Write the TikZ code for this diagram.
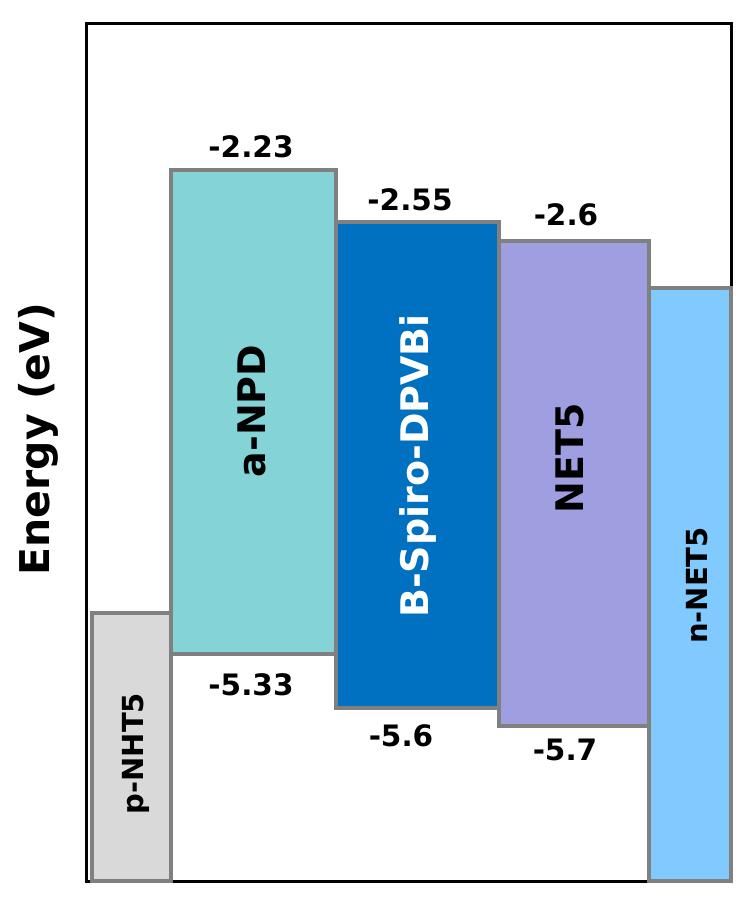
\documentclass[tikz,border=0pt]{standalone}
\usepackage{fontspec}
\setmainfont{DejaVu Sans}
\definecolor{bordergray}{HTML}{808080}
\definecolor{npdcol}{HTML}{84D3D6}
\definecolor{spirocol}{HTML}{0070C0}
\definecolor{netcol}{HTML}{9E9EE0}
\definecolor{nnetcol}{HTML}{80CAFF}
\definecolor{pnhtcol}{HTML}{D9D9D9}
\begin{document}
\begin{tikzpicture}[x=1pt,y=-1pt,
  layer/.style={draw=bordergray, line width=4pt, inner sep=0pt, outer sep=0pt},
  val/.style={font=\fontsize{29.5}{34}\selectfont\bfseries, inner sep=0pt, anchor=base},
  lbl/.style={font=\fontsize{38}{44}\selectfont\bfseries, rotate=90, inner sep=0pt, anchor=base},
  slbl/.style={font=\fontsize{29}{34}\selectfont\bfseries, rotate=90, inner sep=0pt, anchor=base}]
\useasboundingbox (0,0) rectangle (755,900);
% frame
\node[draw=black, line width=3.5pt, minimum width=645pt, minimum height=858pt, inner sep=0pt] (frame) at (409,452.5) {};
% layers
\node[layer, fill=pnhtcol, minimum width=79.5pt, minimum height=267.5pt] (pnht) at (131.25,746.75) {};
\node[layer, fill=npdcol, minimum width=165pt, minimum height=484pt] (npd) at (253.5,412) {};
\node[layer, fill=spirocol, minimum width=162.5pt, minimum height=486pt] (spiro) at (417.25,465) {};
\node[layer, fill=netcol, minimum width=150pt, minimum height=485pt] (net) at (573.5,483.5) {};
\node[layer, fill=nnetcol, minimum width=82.5pt, minimum height=593pt] (nnet) at (689.75,584.5) {};
% layer labels
\node[slbl] (pnhtlbl) at (143,753.5) {p-NHT5};
\node[lbl] (npdlbl) at (265,411) {a-NPD};
\node[lbl, text=white] (spirolbl) at (428,466) {B-Spiro-DPVBi};
\node[lbl] (netlbl) at (583,458.5) {NET5};
\node[slbl] (nnetlbl) at (707,585.5) {n-NET5};
% axis label
\node[font=\fontsize{41}{46}\selectfont\bfseries, rotate=90, inner sep=0pt, anchor=base] (energy) at (49,439) {Energy (eV)};
% values
\node[val] (v1) at (251,157) {-2.23};
\node[val] (v2) at (410,210) {-2.55};
\node[val] (v3) at (566,225) {-2.6};
\node[val] (v4) at (251,695) {-5.33};
\node[val] (v5) at (401,746) {-5.6};
\node[val] (v6) at (565,760) {-5.7};
\end{tikzpicture}
\end{document}
